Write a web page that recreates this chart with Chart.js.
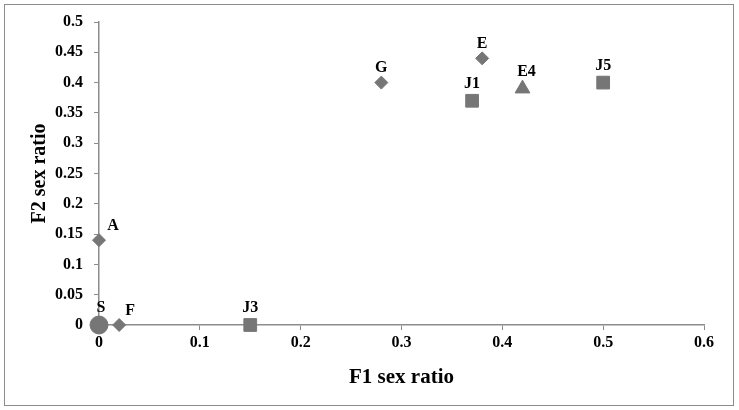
<!DOCTYPE html>
<html>
<head>
<meta charset="utf-8">
<script src="https://cdn.jsdelivr.net/npm/chart.js@4"></script>
<style>
  body { margin: 0; background: #fff; }
  #wrap { position: relative; width: 739px; height: 410px; }
  #frame { position: absolute; left: 4px; top: 4px; width: 728px; height: 400px; border: 1px solid #8c8c8c; pointer-events: none; }
</style>
</head>
<body>
<div id="wrap">
  <canvas id="chart" width="739" height="410"></canvas>
  <div id="frame"></div>
</div>
<script>
// Point data, grouped by marker shape
const diamondNames = ['A', 'F', 'G', 'E'];
const diamondF1 = [0, 0.02, 0.28, 0.38];
const diamondF2 = [0.14, 0, 0.40, 0.44];

const squareNames = ['J3', 'J1', 'J5'];
const squareF1 = [0.15, 0.37, 0.50];
const squareF2 = [0, 0.37, 0.40];

const triangleNames = ['E4'];
const triangleF1 = [0.42];
const triangleF2 = [0.39];

const circleNames = ['S'];
const circleF1 = [0];
const circleF2 = [0];

const markerColor = '#767676';
const serif = '"Liberation Serif", "Times New Roman", serif';

function toPoints(xs, ys) {
    return xs.map((x, i) => ({ x: x, y: ys[i] }));
}

// Label nudges (label is drawn centered above the point unless shifted)
const labelShift = { A: 14, F: 11, E4: 4, S: 2 };

// Plugin: draw the point name above each marker
const pointLabels = {
    id: 'pointLabels',
    afterDatasetsDraw(chart) {
        const ctx = chart.ctx;
        ctx.save();
        ctx.font = 'bold 16px ' + serif;
        ctx.fillStyle = '#000';
        ctx.textAlign = 'center';
        ctx.textBaseline = 'alphabetic';
        chart.data.datasets.forEach((ds, di) => {
            const meta = chart.getDatasetMeta(di);
            meta.data.forEach((el, i) => {
                const name = ds.names[i];
                const dx = labelShift[name] || 0;
                const lift = ds.pointRadius + 4;
                ctx.fillText(name, el.x + dx, el.y - Math.max(lift, 9));
            });
        });
        ctx.restore();
    }
};

const tickFmt = (v) => String(Math.round(v * 100) / 100);

new Chart(document.getElementById('chart').getContext('2d'), {
    type: 'scatter',
    data: {
        datasets: [
            { names: diamondNames, data: toPoints(diamondF1, diamondF2), pointStyle: 'rectRot', pointRadius: 6.5, backgroundColor: markerColor, borderColor: markerColor },
            { names: squareNames, data: toPoints(squareF1, squareF2), pointStyle: 'rect', pointRadius: 9, backgroundColor: markerColor, borderColor: markerColor },
            { names: triangleNames, data: toPoints(triangleF1, triangleF2), pointStyle: 'triangle', pointRadius: 8.5, backgroundColor: markerColor, borderColor: markerColor },
            { names: circleNames, data: toPoints(circleF1, circleF2), pointStyle: 'circle', pointRadius: 9, backgroundColor: markerColor, borderColor: markerColor }
        ]
    },
    options: {
        responsive: false,
        animation: false,
        clip: false,
        layout: { padding: { left: 0, right: 35, top: 22, bottom: 0 } },
        plugins: { legend: { display: false }, tooltip: { enabled: false } },
        scales: {
            x: {
                type: 'linear',
                min: 0,
                max: 0.6,
                afterFit: (s) => { s.height = 85; },
                ticks: { stepSize: 0.1, color: '#000', padding: 3, callback: tickFmt, font: { family: serif, size: 16, weight: 'bold' } },
                grid: { drawOnChartArea: false, drawTicks: true, tickLength: 5, color: '#8c8c8c' },
                border: { color: '#8c8c8c', width: 1.5 },
                title: { display: true, text: 'F1 sex ratio', color: '#000', padding: { top: 0, bottom: 20 }, font: { family: serif, size: 21, weight: 'bold' } }
            },
            y: {
                type: 'linear',
                min: 0,
                max: 0.5,
                afterFit: (s) => { s.width = 99; },
                ticks: { stepSize: 0.05, color: '#000', padding: 11, callback: tickFmt, font: { family: serif, size: 16, weight: 'bold' } },
                grid: { drawOnChartArea: false, drawTicks: true, tickLength: 5, color: '#8c8c8c' },
                border: { color: '#8c8c8c', width: 1.5 },
                title: { display: true, text: 'F2 sex ratio', color: '#000', padding: { top: 28, bottom: 0 }, font: { family: serif, size: 20, weight: 'bold' } }
            }
        }
    },
    plugins: [pointLabels]
});
</script>
</body>
</html>
